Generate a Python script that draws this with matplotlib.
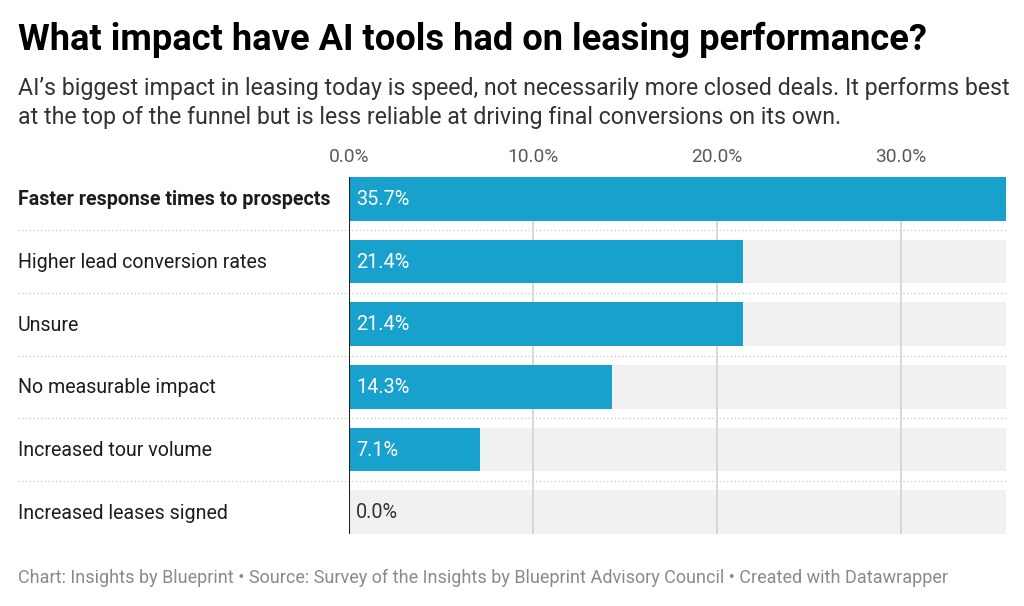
import matplotlib
matplotlib.use("Agg")
import matplotlib.pyplot as plt
from matplotlib.transforms import blended_transform_factory

categories = [
    "Faster response times to prospects",
    "Higher lead conversion rates",
    "Unsure",
    "No measurable impact",
    "Increased tour volume",
    "Increased leases signed",
]
values = [35.7, 21.4, 21.4, 14.3, 7.1, 0.0]
ticks = [0, 10, 20, 30]
tick_labels = ["0.0%", "10.0%", "20.0%", "30.0%"]

title = "What impact have AI tools had on leasing performance?"
subtitle = ("AI\u2019s biggest impact in leasing today is speed, not necessarily more closed deals. It performs best\n"
            "at the top of the funnel but is less reliable at driving final conversions on its own.")
footer = ("Chart: Insights by Blueprint \u2022 Source: Survey of the Insights by Blueprint Advisory Council "
          "\u2022 Created with Datawrapper")

plt.rcParams['font.family'] = ['Roboto', 'DejaVu Sans']

W, H = 1024, 606
fig = plt.figure(figsize=(W / 100, H / 100), dpi=100)

def fx(px):
    return px / W

def fy(py):
    return 1 - py / H

ax_left, ax_right, ax_top, ax_bot = 349, 1006, 177, 534
ax = fig.add_axes([fx(ax_left), fy(ax_bot), fx(ax_right - ax_left), (ax_bot - ax_top) / H])

bar_color = "#18a1cd"
bg_color = "#f1f1f1"
h = 0.694
n = len(categories)
xmax = max(values)
ys = list(range(n))

ax.barh(ys, [xmax] * n, height=h, color=bg_color, zorder=1, linewidth=0)
for t in ticks[1:]:
    ax.axvline(t, color="#d2d2d2", linewidth=1.2, zorder=2)
ax.barh(ys, values, height=h, color=bar_color, zorder=3, linewidth=0)
ax.axvline(0, color="#222222", linewidth=1.5, zorder=4)

ax.set_xlim(0, xmax)
ax.set_ylim(n - 1 + h / 2, -h / 2)
ax.axis("off")

for i, v in enumerate(values):
    col = "white" if v > 2 else "#333333"
    ax.text(0.4, i + 0.01, f"{v:.1f}%", color=col, fontsize=14.3, va="center", ha="left", zorder=5)

# category labels
trans_lab = blended_transform_factory(fig.transFigure, ax.transData)
for i, c in enumerate(categories):
    ax.text(fx(18), i + 0.015, c, transform=trans_lab, fontsize=14.1, va="center", ha="left",
            color="#1d1d1d", fontweight="bold" if i == 0 else "normal")

# dotted separators
for i in range(n - 1):
    yy = i + 0.5
    ax.plot([fx(18), fx(1006)], [yy, yy], transform=trans_lab, color="#c4c4c4",
            linewidth=0.9, linestyle=(0, (1, 2)), clip_on=False, zorder=0)

# tick labels
trans_tick = blended_transform_factory(ax.transData, fig.transFigure)
for t, lab in zip(ticks, tick_labels):
    ax.text(t, fy(157), lab, transform=trans_tick, fontsize=13.8, ha="center", va="center",
            color="#5a5a5a")

fig.text(fx(18), fy(40), title, fontsize=26.1, fontweight="bold", color="#000000",
         ha="left", va="center")
fig.text(fx(18), fy(103), subtitle, fontsize=16.65, color="#333333", ha="left", va="center",
         linespacing=1.32)
fig.text(fx(18), fy(578), footer, fontsize=13.0, color="#8a8a8a", ha="left", va="center")

fig.savefig("out.png", dpi=100, facecolor="white")
